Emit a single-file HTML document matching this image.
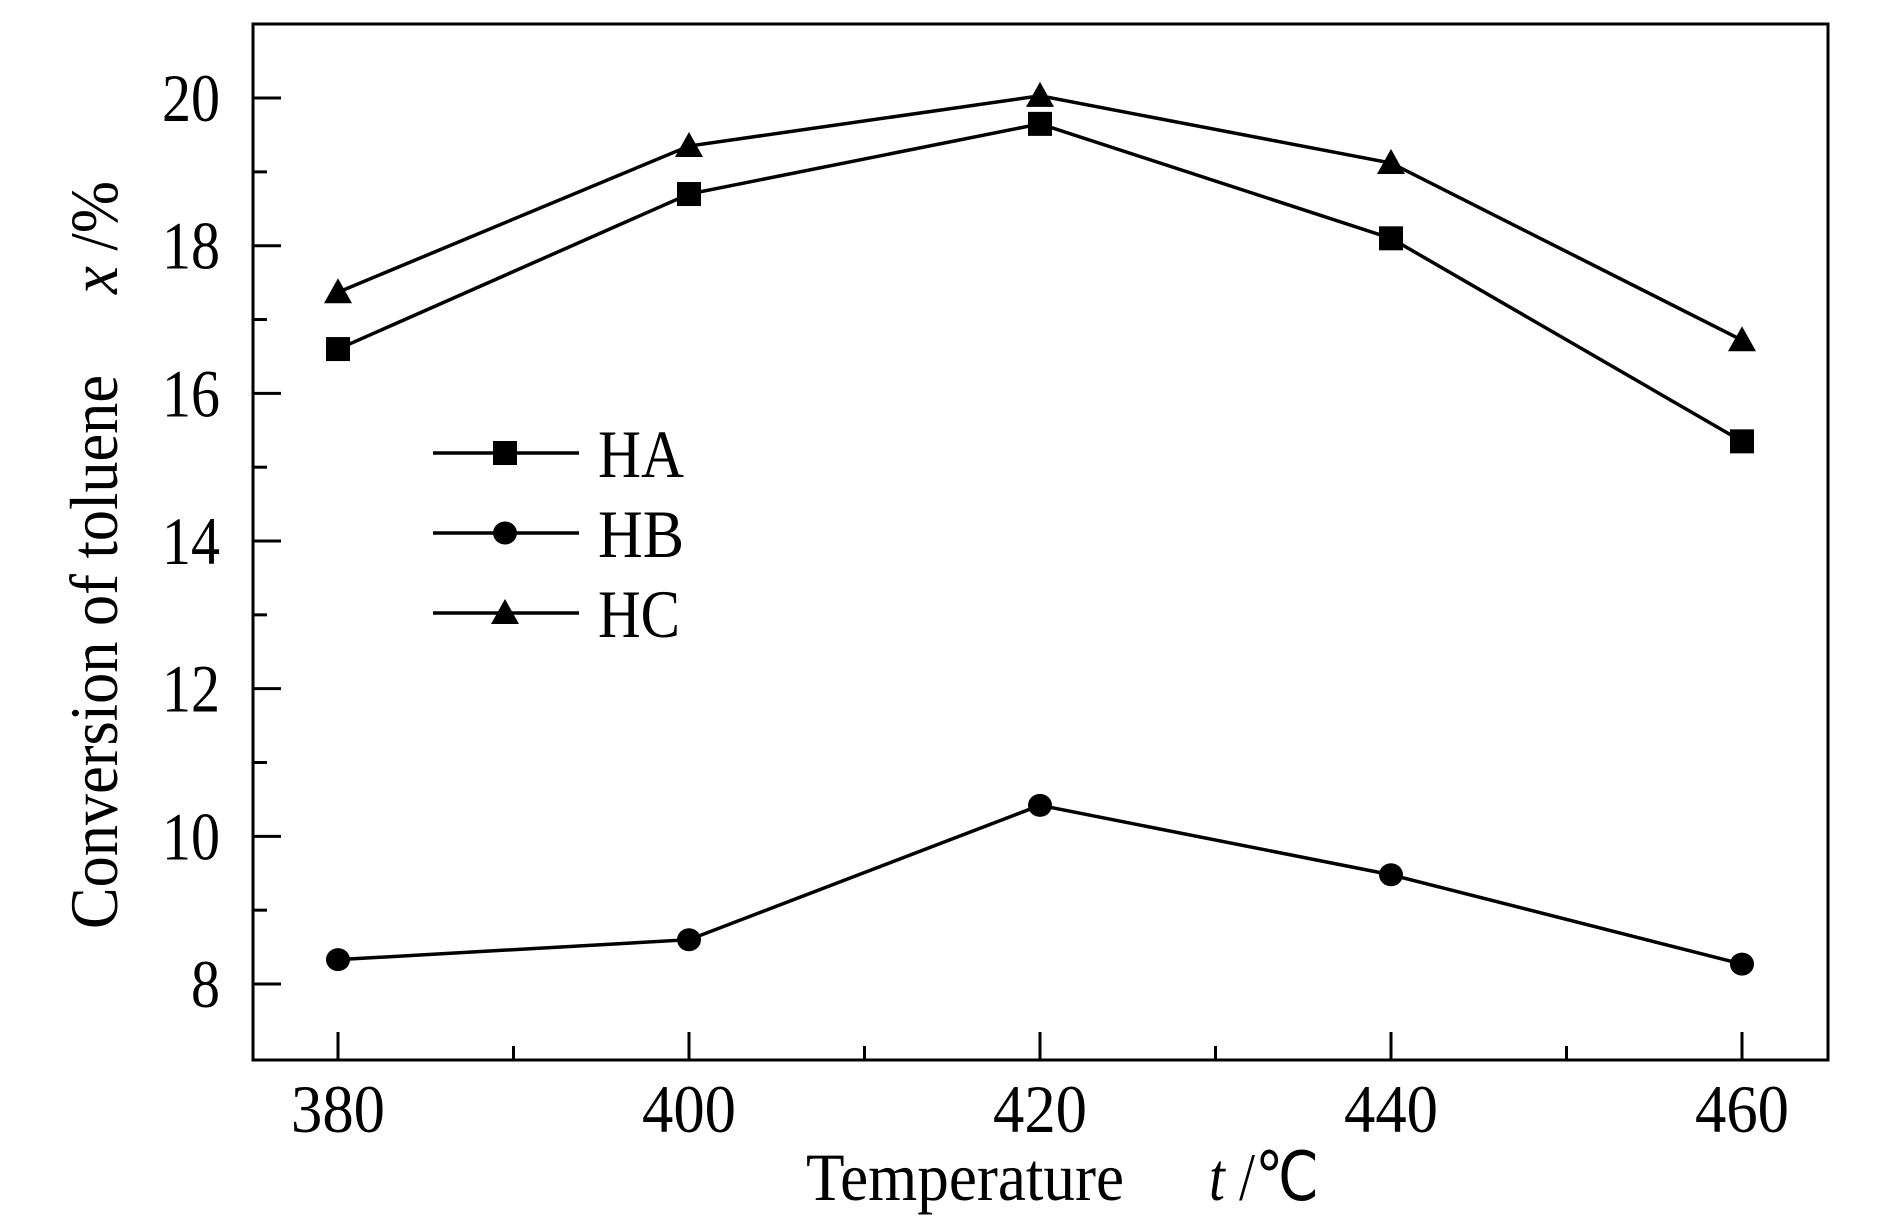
<!DOCTYPE html>
<html><head><meta charset="utf-8"><style>
html,body{margin:0;padding:0;background:#fff;}
svg{display:block;}
text{font-family:"Liberation Serif","Times New Roman",serif;fill:#000;}
</style></head><body>
<svg id="chart" width="1887" height="1227" viewBox="0 0 1887 1227" xmlns="http://www.w3.org/2000/svg">
<rect x="253" y="24" width="1575" height="1036" fill="none" stroke="#000" stroke-width="3"/>
<g id="ticks"></g>
<g id="series"></g>
<g id="legend"></g>
<text x="806" y="1200" font-size="68" textLength="318" lengthAdjust="spacingAndGlyphs">Temperature</text>
<text x="1209" y="1200" font-size="68" textLength="110" lengthAdjust="spacingAndGlyphs"><tspan font-style="italic">t</tspan> /℃</text>
<text transform="translate(117,929) rotate(-90)" font-size="68" textLength="554" lengthAdjust="spacingAndGlyphs">Conversion of toluene</text>
<text transform="translate(117,294) rotate(-90)" font-size="68" textLength="113" lengthAdjust="spacingAndGlyphs"><tspan font-style="italic">x</tspan> /%</text>
</svg>
<script>
const categories=[380,400,420,440,460];
const haValues=[16.6,18.7,19.65,18.1,15.35];
const hbValues=[8.33,8.6,10.42,9.48,8.27];
const hcValues=[17.37,19.35,20.03,19.12,16.72];
const xTickLabels=[380,400,420,440,460];
const yTickLabels=[8,10,12,14,16,18,20];
const seriesNames=["HA","HB","HC"];

const NS="http://www.w3.org/2000/svg";
function xs(v){return 338+(v-380)*17.55;}
function ys(v){return 984-(v-8)*73.83;}
function mk(tag,attrs,parent){const e=document.createElementNS(NS,tag);for(const k in attrs)e.setAttribute(k,attrs[k]);parent.appendChild(e);return e;}
const ticks=document.getElementById('ticks');
const series=document.getElementById('series');
const legend=document.getElementById('legend');

xTickLabels.forEach(v=>{
  const l=mk('line',{x1:xs(v),x2:xs(v),y1:1060,y2:1032,stroke:'#000','stroke-width':3},ticks);
  
  
  const t=mk('text',{x:xs(v),y:1132,'font-size':68,'text-anchor':'middle',textLength:94,lengthAdjust:'spacingAndGlyphs'},ticks);
  t.textContent=v;
  
  
  if(v<460){
    const m=mk('line',{x1:xs(v+10),x2:xs(v+10),y1:1060,y2:1046,stroke:'#000','stroke-width':3},ticks);
    
    
  }
});
yTickLabels.forEach(v=>{
  const l=mk('line',{x1:253,x2:281,y1:ys(v),y2:ys(v),stroke:'#000','stroke-width':3},ticks);
  
  
  const s=String(v);
  const t=mk('text',{x:220,y:ys(v)+23,'font-size':68,'text-anchor':'end',textLength:s.length*29,lengthAdjust:'spacingAndGlyphs'},ticks);
  t.textContent=s;
  
  
  if(v<20){
    const m=mk('line',{x1:253,x2:267,y1:ys(v+1),y2:ys(v+1),stroke:'#000','stroke-width':3},ticks);
    
    
  }
});

function marker(type,x,y,parent){
  let e;
  if(type===0) e=mk('rect',{x:x-12,y:y-12,width:24,height:24,fill:'#000'},parent);
  else if(type===1) e=mk('ellipse',{cx:x,cy:y,rx:12,ry:11.5,fill:'#000'},parent);
  else e=mk('polygon',{points:`${x},${y-14} ${x-14},${y+11} ${x+14},${y+11}`,fill:'#000'},parent);
  return e;
}
[haValues,hbValues,hcValues].forEach((vals,si)=>{
  const pts=vals.map((v,i)=>xs(categories[i])+','+ys(v)).join(' ');
  const pl=mk('polyline',{points:pts,fill:'none',stroke:'#000','stroke-width':3.5},series);
  
  
  vals.forEach((v,i)=>{
    const m=marker(si,xs(categories[i]),ys(v),series);
    
    
  });
  const ly=453+si*80;
  const ll=mk('line',{x1:433,x2:579,y1:ly,y2:ly,stroke:'#000','stroke-width':3.5},legend);
  
  
  const lm=marker(si,505,ly,legend);
  
  
  const lt=mk('text',{x:598,y:ly+24,'font-size':68,textLength:seriesNames[si]==='HC'?82:86,lengthAdjust:'spacingAndGlyphs'},legend);
  lt.textContent=seriesNames[si];
  
  
});
</script>
</body></html>
